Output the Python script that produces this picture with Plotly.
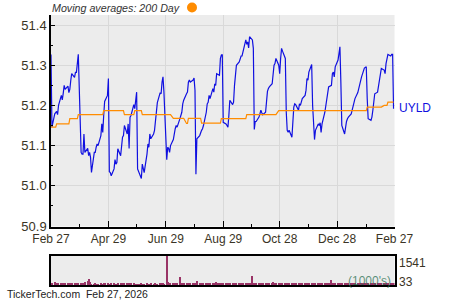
import pandas as pd
import plotly.graph_objects as go

# ---------------- data ----------------
start_date = "2025-02-27"
end_date = "2026-02-27"

prices = [
    51.327, 51.146, 51.179, 51.182, 51.185, 51.177, 51.200, 51.225, 51.214, 51.230,
    51.250, 51.240, 51.248, 51.232, 51.240, 51.262, 51.279, 51.270, 51.282, 51.282,
    51.300, 51.327, 51.083, 51.079, 51.079, 51.129, 51.083, 51.093, 51.075, 51.083,
    51.071, 51.033, 51.083, 51.083, 51.096, 51.104, 51.100, 51.125, 51.154, 51.133,
    51.175, 51.210, 51.225, 51.267, 51.035, 51.033, 51.025, 51.042, 51.065, 51.054,
    51.058, 51.092, 51.075, 51.100, 51.121, 51.125, 51.150, 51.129, 51.154, 51.093,
    51.171, 51.175, 51.202, 51.192, 51.213, 51.233, 51.042, 51.027, 51.018, 51.054,
    51.042, 51.033, 51.079, 51.104, 51.096, 51.129, 51.117, 51.129, 51.138, 51.158,
    51.183, 51.207, 51.232, 51.229, 51.258, 51.271, 51.233, 51.065, 51.096, 51.093,
    51.083, 51.100, 51.115, 51.133, 51.142, 51.150, 51.146, 51.167, 51.175, 51.183,
    51.204, 51.213, 51.229, 51.233, 51.258, 51.263, 51.258, 51.263, 51.268, 51.238,
    51.029, 51.117, 51.125, 51.133, 51.138, 51.142, 51.150, 51.183, 51.204, 51.208,
    51.225, 51.217, 51.242, 51.233, 51.254, 51.250, 51.279, 51.275, 51.317, 51.325,
    51.327, 51.158, 51.154, 51.150, 51.146, 51.175, 51.213, 51.202, 51.208, 51.250,
    51.288, 51.300, 51.308, 51.317, 51.323, 51.323, 51.333, 51.363, 51.352, 51.358,
    51.343, 51.371, 51.363, 51.342, 51.140, 51.160, 51.160, 51.171, 51.179, 51.188,
    51.182, 51.177, 51.183, 51.225, 51.235, 51.242, 51.246, 51.254, 51.275, 51.300,
    51.304, 51.317, 51.300, 51.279, 51.317, 51.342, 51.335, 51.317, 51.183, 51.138,
    51.133, 51.138, 51.121, 51.167, 51.196, 51.204, 51.202, 51.188, 51.204, 51.200,
    51.213, 51.217, 51.225, 51.238, 51.267, 51.263, 51.283, 51.302, 51.200, 51.142,
    51.115, 51.138, 51.154, 51.150, 51.157, 51.133, 51.154, 51.183, 51.202, 51.221,
    51.238, 51.246, 51.250, 51.279, 51.283, 51.271, 51.296, 51.313, 51.329, 51.346,
    51.258, 51.150, 51.129, 51.154, 51.160, 51.167, 51.171, 51.179, 51.188, 51.196,
    51.208, 51.217, 51.232, 51.243, 51.248, 51.258, 51.271, 51.293, 51.296, 51.296,
    51.217, 51.167, 51.163, 51.171, 51.188, 51.217, 51.229, 51.233, 51.250, 51.263,
    51.275, 51.292, 51.288, 51.279, 51.304, 51.321, 51.327, 51.323, 51.327, 51.327,
    51.192,
]

# 200-day moving average: step levels and how many trading days each lasts
ma_levels = [51.146, 51.154, 51.167, 51.177, 51.187, 51.177, 51.187, 51.177, 51.168,
             51.155, 51.168, 51.156, 51.167, 51.177, 51.187, 51.196, 51.200, 51.208]
ma_days = [4, 10, 7, 19, 16, 7, 6, 23, 10, 2, 10, 15, 19, 24, 68, 12, 4, 5]

volume = [
    60, 80, 160, 70, 50, 60, 90, 60, 70, 50, 60, 80, 60, 100, 70, 60, 90, 60, 110, 80,
    70, 90, 110, 80, 120, 100, 140, 200, 320, 180, 60, 50, 40, 60, 50, 40, 50, 60, 40, 50,
    60, 90, 110, 60, 50, 40, 100, 60, 50, 40, 50, 60, 110, 90, 70, 130, 100, 80, 60, 50,
    120, 90, 60, 50, 40, 50, 40, 50, 60, 40, 50, 40, 60, 50, 40, 50, 60, 40, 50, 60,
    40, 50, 130, 40, 60, 120, 50, 1541, 140, 60, 110, 90, 80, 100, 120, 70, 90, 430, 110, 90,
    80, 120, 60, 70, 90, 60, 80, 120, 100, 60, 90, 200, 130, 90, 70, 80, 120, 100, 60, 90,
    110, 130, 70, 60, 80, 150, 120, 90, 100, 110, 60, 80, 70, 90, 110, 120, 80, 70, 90, 100,
    60, 80, 100, 90, 110, 70, 60, 80, 120, 90, 100, 60, 480, 70, 90, 80, 60, 100, 70, 80,
    110, 90, 60, 80, 100, 120, 70, 80, 140, 90, 60, 70, 110, 80, 90, 130, 70, 60, 80, 100,
    90, 70, 60, 80, 110, 70, 60, 90, 100, 80, 70, 60, 90, 130, 80, 70, 60, 90, 100, 80,
    70, 90, 80, 60, 100, 90, 70, 80, 60, 120, 90, 70, 250, 110, 80, 60, 90, 70, 100, 80,
    60, 90, 70, 80, 100, 60, 90, 80, 70, 100, 90, 60, 80, 70, 90, 110, 80, 70, 60, 90,
    100, 80, 70, 90, 60, 80, 100, 70, 90, 80, 60, 90, 70, 100, 80, 60, 90, 70, 80, 100,
    90,
]

major_ticks = ["2025-02-27", "2025-04-29", "2025-06-29", "2025-08-29",
               "2025-10-28", "2025-12-28", "2026-02-27"]
major_labels = ["Feb 27", "Apr 29", "Jun 29", "Aug 29", "Oct 28", "Dec 28", "Feb 27"]
minor_ticks = ["2025-03-29", "2025-05-29", "2025-07-29", "2025-09-28",
               "2025-11-28", "2026-01-28"]
y_ticks = [50.9, 51.0, 51.1, 51.2, 51.3, 51.4]
y_minor = [50.95, 51.05, 51.15, 51.25, 51.35]
vol_labels = ["1541", "33"]
ticker = "UYLD"

# ---------------- build ----------------
dates = pd.bdate_range(start_date, periods=len(prices))
ma = []
for lvl, n in zip(ma_levels, ma_days):
    ma.extend([lvl] * n)
ma = ma[:len(prices)]

W, H = 450, 300
def px(x):
    return x / W
def py(y):
    return 1 - y / H

FONT = "Arial, Liberation Sans, sans-serif"
TXT = "#3a3425"

fig = go.Figure()
fig.add_trace(go.Scatter(x=dates, y=prices, mode="lines",
                         line=dict(color="#1010e0", width=1.2),
                         xaxis="x", yaxis="y", hoverinfo="skip"))
fig.add_trace(go.Scatter(x=dates, y=ma, mode="lines",
                         line=dict(color="#ff8c00", width=1.2),
                         xaxis="x", yaxis="y", hoverinfo="skip"))
fig.add_trace(go.Bar(x=dates, y=volume, marker=dict(color="#993366", line=dict(width=0)),
                     xaxis="x2", yaxis="y2", hoverinfo="skip"))

x_dom = [px(51), px(394.5)]
fig.update_layout(
    width=W, height=H,
    margin=dict(l=0, r=0, t=0, b=0, autoexpand=False),
    paper_bgcolor="white",
    plot_bgcolor="#ececec",
    showlegend=False,
    bargap=0,
    font=dict(family=FONT, color=TXT),
    xaxis=dict(
        type="date", domain=x_dom, anchor="y", automargin=False,
        range=[start_date, end_date],
        tickvals=major_ticks, ticktext=major_labels,
        ticks="inside", ticklen=6, tickcolor="black", tickwidth=1,
        tickfont=dict(size=12, color=TXT),
        showgrid=True, gridcolor="#d9d9d9", gridwidth=1,
        showline=True, linecolor="black", linewidth=1.5,
        minor=dict(tickvals=minor_ticks, ticks="inside", ticklen=3,
                   tickcolor="black", showgrid=False),
        zeroline=False, fixedrange=True,
    ),
    yaxis=dict(
        domain=[py(226.5), py(15)], anchor="x", automargin=False,
        range=[50.9 - 0.5 / 400, 51.425],
        tickvals=y_ticks, ticktext=[f"{v:.1f}" for v in y_ticks],
        ticks="inside", ticklen=4, tickcolor="black",
        tickfont=dict(size=13, color=TXT),
        showgrid=True, gridcolor="#d9d9d9", gridwidth=1,
        showline=True, linecolor="black", linewidth=1.5,
        minor=dict(tickvals=y_minor, ticks="inside", ticklen=2,
                   tickcolor="black", showgrid=False),
        zeroline=False, fixedrange=True,
    ),
    xaxis2=dict(
        type="date", domain=x_dom, anchor="y2", automargin=False,
        range=[start_date, end_date],
        showticklabels=False, ticks="", showgrid=False,
        showline=True, linecolor="black", linewidth=1.5, mirror=True,
        zeroline=False, fixedrange=True,
    ),
    yaxis2=dict(
        domain=[py(285), py(256)], anchor="x2", automargin=False,
        range=[0, 1541],
        showticklabels=False, ticks="", showgrid=False,
        showline=True, linecolor="black", linewidth=1.5, mirror=True,
        zeroline=False, fixedrange=True,
    ),
)

ann = [
    dict(x=px(50), y=py(8), text="<i>Moving averages: 200 Day</i>",
         xanchor="left", yanchor="middle", font=dict(size=10.7, color="#333333")),
    dict(x=px(397), y=py(107.5), text=ticker, xanchor="left", yanchor="middle",
         font=dict(size=12, color="#1010e0")),
    dict(x=px(397), y=py(263), text=vol_labels[0], xanchor="left", yanchor="middle",
         font=dict(size=12, color=TXT)),
    dict(x=px(397), y=py(282), text=vol_labels[1], xanchor="left", yanchor="middle",
         font=dict(size=12, color=TXT)),
    dict(x=px(393), y=py(281), text="(1000's)", xanchor="right", yanchor="middle",
         font=dict(size=12, color="rgba(40,110,80,0.75)")),
    dict(x=px(5), y=py(294), text="TickerTech.com  Feb 27, 2026", xanchor="left",
         yanchor="middle", font=dict(size=10.5, color="#222222")),
]
for a in ann:
    a.update(xref="paper", yref="paper", showarrow=False)
fig.update_layout(annotations=ann)

fig.add_shape(type="circle", xref="paper", yref="paper",
              x0=px(187), x1=px(197), y0=py(12.5), y1=py(2.5),
              fillcolor="#ff8c00", line=dict(width=0))

fig.write_html("out.html")
